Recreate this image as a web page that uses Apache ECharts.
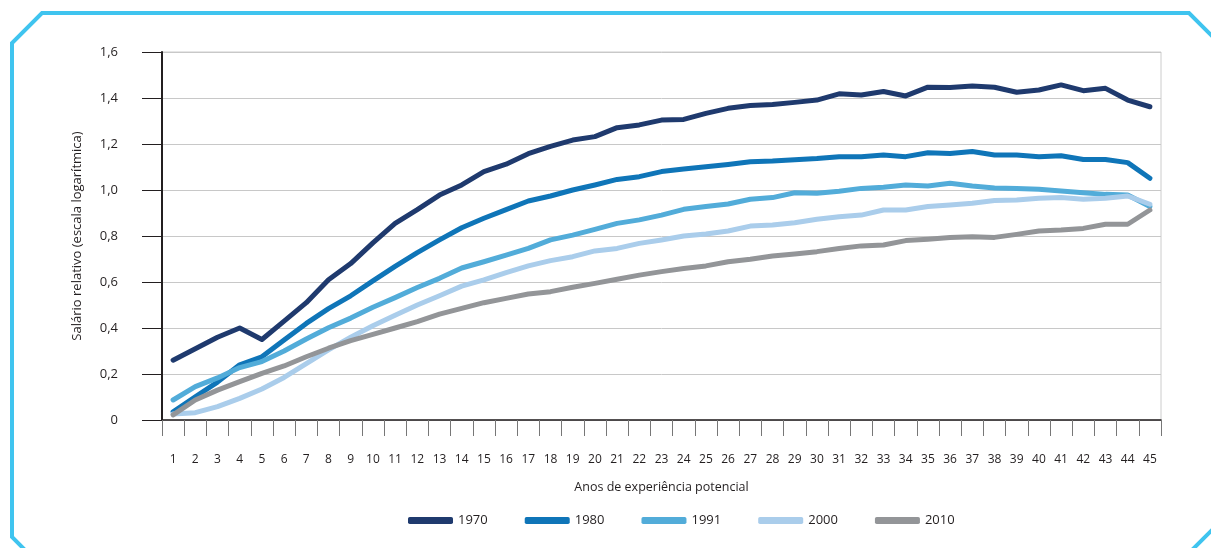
<!DOCTYPE html>
<html>
<head>
<meta charset="utf-8">
<script src="https://cdn.jsdelivr.net/npm/echarts@6/dist/echarts.min.js"></script>
<style>
html,body{margin:0;padding:0;background:#fff;}
#chart{width:1211px;height:548px;}
</style>
</head>
<body>
<div id="chart"></div>
<script>
const categories = Array.from({length:45},(_, i) => String(i + 1));
const seriesNames = ['1970','1980','1991','2000','2010'];
const yTickLabels = ['0','0,2','0,4','0,6','0,8','1,0','1,2','1,4','1,6'];

const s1970 = [0.26,0.31,0.36,0.40,0.35,0.43,0.51,0.61,0.68,0.77,0.855,0.915,0.978,1.022,1.08,1.112,1.158,1.19,1.217,1.232,1.271,1.283,1.304,1.307,1.333,1.355,1.367,1.372,1.381,1.391,1.418,1.413,1.428,1.409,1.447,1.446,1.452,1.447,1.425,1.435,1.457,1.432,1.442,1.391,1.362];
const s1980 = [0.036,0.101,0.165,0.24,0.275,0.348,0.42,0.484,0.54,0.605,0.668,0.728,0.783,0.836,0.877,0.915,0.952,0.974,1.0,1.022,1.046,1.058,1.08,1.091,1.101,1.111,1.123,1.126,1.132,1.137,1.145,1.145,1.152,1.145,1.162,1.159,1.167,1.152,1.152,1.145,1.149,1.133,1.133,1.119,1.051];
const s1991 = [0.087,0.145,0.183,0.228,0.254,0.3,0.352,0.401,0.443,0.49,0.532,0.576,0.616,0.661,0.688,0.717,0.746,0.783,0.804,0.829,0.855,0.87,0.891,0.916,0.928,0.939,0.96,0.967,0.988,0.986,0.995,1.007,1.012,1.022,1.017,1.029,1.017,1.009,1.007,1.003,0.996,0.988,0.981,0.978,0.928];
const s2000 = [0.026,0.032,0.058,0.094,0.135,0.185,0.245,0.305,0.36,0.41,0.455,0.50,0.54,0.582,0.609,0.641,0.67,0.693,0.71,0.735,0.746,0.768,0.783,0.8,0.809,0.822,0.843,0.848,0.858,0.873,0.884,0.891,0.913,0.913,0.928,0.935,0.942,0.954,0.957,0.964,0.967,0.96,0.964,0.974,0.938];
const s2010 = [0.022,0.087,0.13,0.167,0.203,0.235,0.275,0.312,0.345,0.372,0.4,0.428,0.46,0.485,0.51,0.529,0.548,0.558,0.577,0.594,0.612,0.63,0.645,0.659,0.67,0.688,0.699,0.713,0.722,0.732,0.746,0.757,0.761,0.78,0.786,0.793,0.797,0.794,0.807,0.822,0.826,0.833,0.851,0.851,0.913];

const seriesData = [s1970, s1980, s1991, s2000, s2010];
const colors = ['#1F3A6E','#0F75B8','#52ACD9','#AACDEB','#939598'];
const FONT = '"Open Sans", "Noto Sans", sans-serif';
const TXT = '#231F20';

const chart = echarts.init(document.getElementById('chart'), null, {renderer:'canvas'});
chart.setOption({
  animation:false,
  backgroundColor:'#fff',
  textStyle:{fontFamily:FONT},
  graphic:[{
    type:'polyline',
    shape:{points:[[35,560],[12,537],[12,43],[42,13],[1189,13],[1222,46],[1222,520],[1190,552]]},
    style:{stroke:'#3FC4EF', lineWidth:4, fill:null},
    silent:true
  }],
  grid:{left:162, right:50, top:52, bottom:128, show:true, borderColor:'#CCCCCC', borderWidth:1},
  legend:{
    data:seriesNames,
    left:403, top:509,
    icon:'roundRect',
    itemWidth:45, itemHeight:7,
    itemGap:37,
    textStyle:{fontFamily:FONT, fontSize:13, color:TXT}
  },
  xAxis:{
    type:'category',
    data:categories,
    boundaryGap:true,
    name:'Anos de experiência potencial',
    nameLocation:'middle',
    nameGap:61,
    nameTextStyle:{fontFamily:FONT, fontSize:12.5, color:TXT},
    axisLine:{lineStyle:{color:TXT, width:1.5}},
    axisTick:{show:true, inside:false, length:16, interval:0, lineStyle:{color:'#777', width:1}},
    axisLabel:{interval:0, margin:34, fontSize:12, color:TXT, fontFamily:FONT}
  },
  yAxis:{
    type:'value',
    min:0, max:1.6, interval:0.2,
    name:'Salário relativo (escala logarítmica)',
    nameLocation:'middle',
    nameRotate:90,
    nameGap:78,
    nameTextStyle:{fontFamily:FONT, fontSize:13, color:TXT},
    axisLine:{show:true, lineStyle:{color:TXT, width:2}},
    axisTick:{show:true, inside:false, length:20, lineStyle:{color:TXT, width:1}},
    axisLabel:{margin:44, fontSize:13, color:TXT, fontFamily:FONT,
      formatter:function(v){ return yTickLabels[Math.round(v/0.2)]; }},
    splitLine:{show:true, lineStyle:{color:'#C8C8C8', width:1}}
  },
  series: seriesNames.map((n, i) => ({
    name:n,
    type:'line',
    data:seriesData[i],
    symbol:'none',
    smooth:false,
    lineStyle:{color:colors[i], width:5, join:'round', cap:'round'},
    itemStyle:{color:colors[i]},
    z:2+i
  }))
});
</script>
</body>
</html>
